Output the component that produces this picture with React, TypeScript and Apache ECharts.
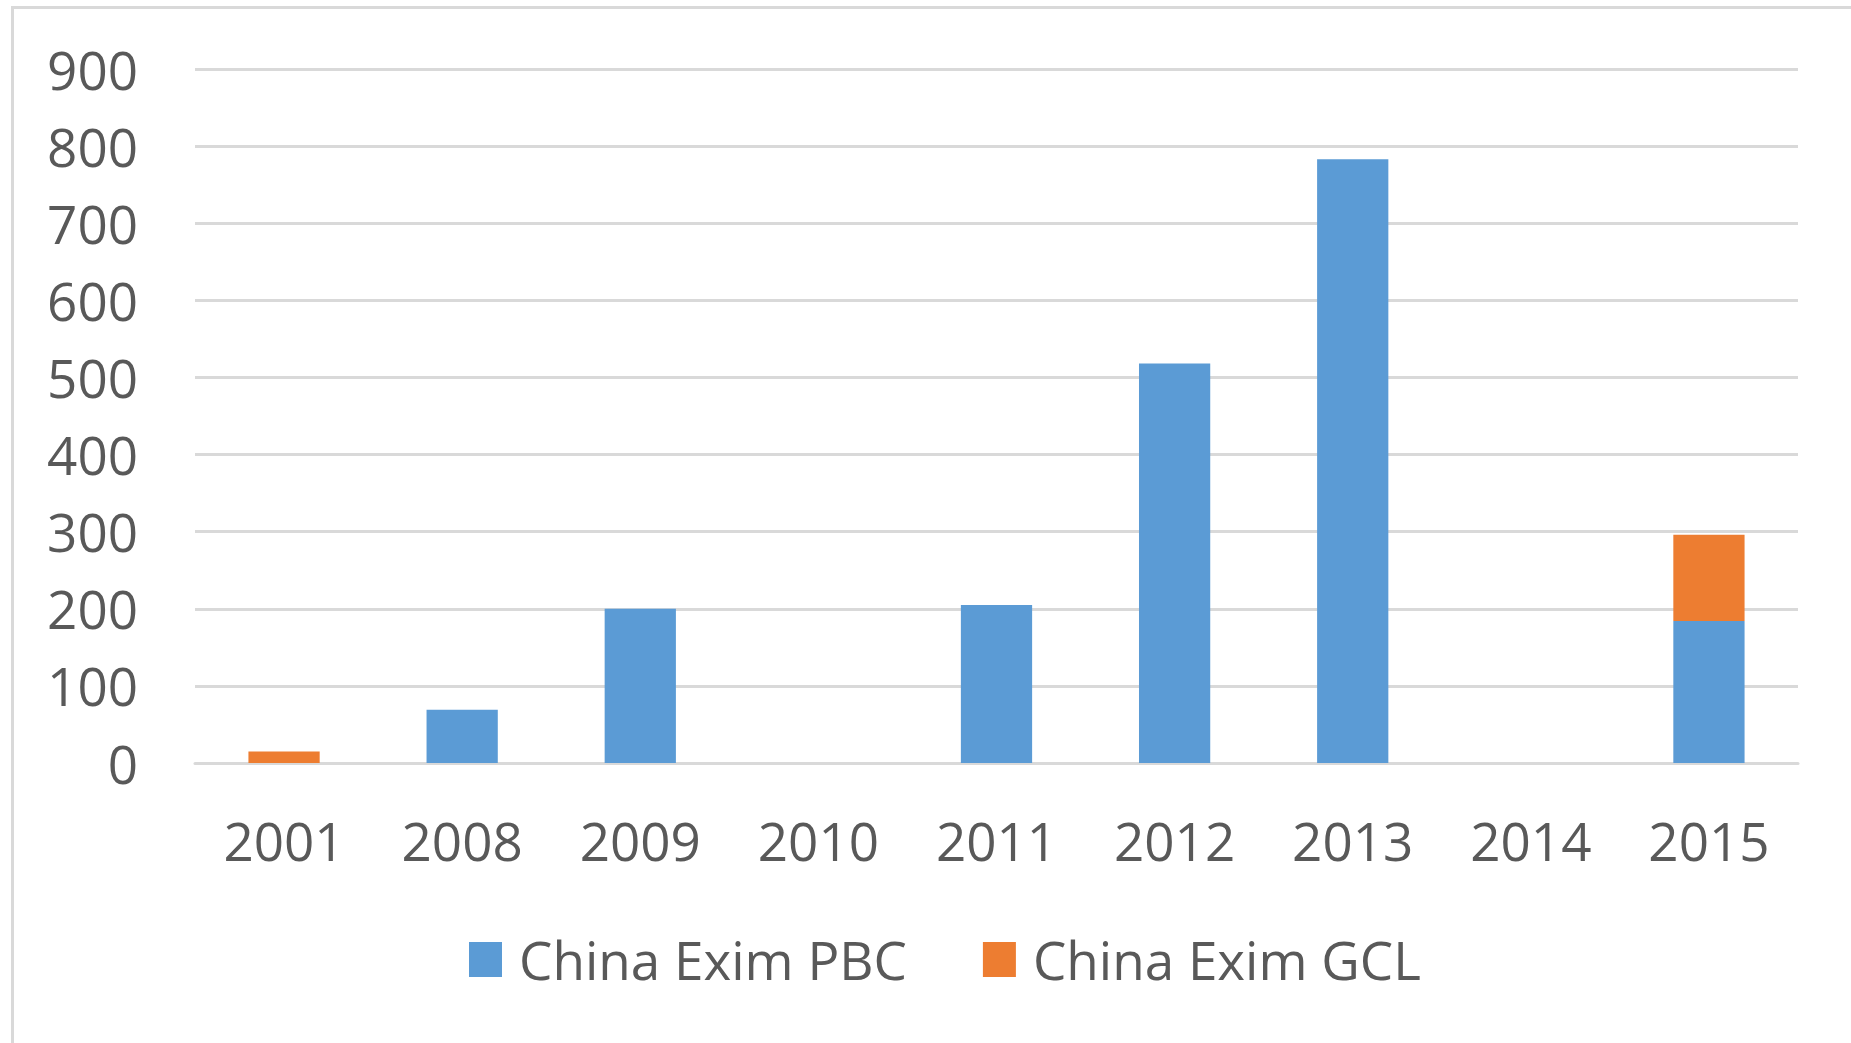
import React, { useEffect, useRef } from "react";
import * as echarts from "echarts";

const categories = ["2001", "2008", "2009", "2010", "2011", "2012", "2013", "2014", "2015"];
const pbcValues = [0, 69, 200, 0, 205, 518, 783, 0, 184];
const gclValues = [15, 0, 0, 0, 0, 0, 0, 0, 112];
const seriesNames = ["China Exim PBC", "China Exim GCL"];

const FONT = "'Open Sans', 'Noto Sans', sans-serif";
const TEXT = "#595959";
const GRID = "#d9d9d9";

export default function App() {
  const ref = useRef<HTMLDivElement>(null);
  useEffect(() => {
    if (!ref.current) return;
    const chart = echarts.init(ref.current, null, { renderer: "svg" });
    chart.setOption({
      animation: false,
      backgroundColor: "#ffffff",
      graphic: [
        { type: "line", shape: { x1: 12, y1: 7.5, x2: 1851, y2: 7.5 }, style: { stroke: GRID, lineWidth: 3 } },
        { type: "line", shape: { x1: 12.5, y1: 6, x2: 12.5, y2: 1043 }, style: { stroke: GRID, lineWidth: 3 } },
      ],
      grid: { left: 195, right: 53, top: 69, bottom: 280, containLabel: false },
      legend: {
        data: seriesNames,
        left: 464,
        top: 928,
        itemWidth: 33,
        itemHeight: 35,
        itemGap: 76,
        icon: "rect",
        textStyle: { fontFamily: FONT, fontSize: 53, color: TEXT, padding: [0, 0, 0, 12] },
      },
      xAxis: {
        type: "category",
        data: categories,
        axisLine: { show: true, lineStyle: { color: GRID, width: 3 } },
        axisTick: { show: false },
        axisLabel: { fontFamily: FONT, fontSize: 53, color: TEXT, margin: 51, lineHeight: 53 },
      },
      yAxis: {
        type: "value",
        min: 0,
        max: 900,
        interval: 100,
        axisLine: { show: false },
        axisTick: { show: false },
        splitLine: { lineStyle: { color: GRID, width: 3 } },
        axisLabel: { fontFamily: FONT, fontSize: 53, color: TEXT, margin: 57 },
      },
      series: [
        {
          name: seriesNames[0],
          type: "bar",
          stack: "total",
          data: pbcValues,
          barWidth: "40%",
          itemStyle: { color: "#5b9bd5" },
        },
        {
          name: seriesNames[1],
          type: "bar",
          stack: "total",
          data: gclValues,
          barWidth: "40%",
          itemStyle: { color: "#ed7d31" },
        },
      ],
    });
    return () => chart.dispose();
  }, []);
  return (
    <div
      ref={ref}
      style={{ position: "fixed", left: 0, top: 0, width: 1851, height: 1043 }}
    />
  );
}
